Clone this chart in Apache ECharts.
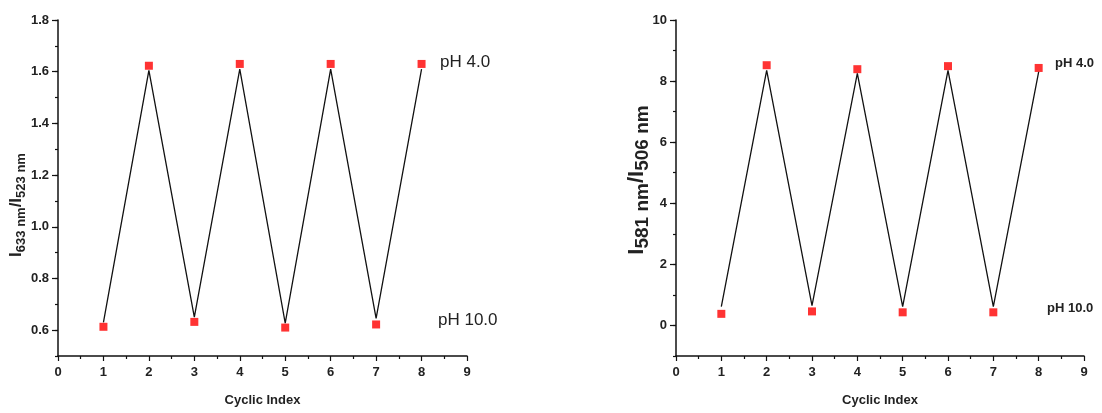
<!DOCTYPE html>
<html>
<head>
<meta charset="utf-8">
<script src="https://cdn.jsdelivr.net/npm/echarts@6/dist/echarts.min.js"></script>
<style>
  html, body { margin: 0; padding: 0; background: #fff; }
  #chart { width: 1102px; height: 413px; }
</style>
</head>
<body>
<div id="chart"></div>
<script>
// cycle index on the x axis
var cycles = [1, 2, 3, 4, 5, 6, 7, 8];

// left panel: I633/I523 ratio (markers) and the connecting line as drawn
var leftRatio = [0.613, 1.623, 0.632, 1.630, 0.610, 1.630, 0.622, 1.630];
var leftLine = [0.63, 1.605, 0.65, 1.61, 0.627, 1.61, 0.646, 1.61];

// right panel: I581/I506 ratio (markers) and connecting line
var rightRatio = [0.38, 8.52, 0.46, 8.39, 0.43, 8.49, 0.43, 8.43];
var rightLine = [0.62, 8.35, 0.65, 8.25, 0.62, 8.35, 0.62, 8.3];

// tick labels
var xTicks = [0, 1, 2, 3, 4, 5, 6, 7, 8, 9];
var leftYTicks = [0.6, 0.8, 1.0, 1.2, 1.4, 1.6, 1.8];
var rightYTicks = [0, 2, 4, 6, 8, 10];

var font = 'Liberation Sans, Arial, sans-serif';

function pairs(xs, ys) {
  return xs.map(function (x, i) { return [x, ys[i]]; });
}

function xAxisFor(grid) {
  return {
    type: 'value', gridIndex: grid, min: 0, max: 9, interval: 1,
    name: 'Cyclic Index', nameLocation: 'middle', nameGap: 38,
    nameTextStyle: { fontFamily: font, fontWeight: 'bold', fontSize: 13, color: '#222' },
    axisLine: { onZero: false, lineStyle: { color: '#111', width: 1.5 } },
    axisTick: { length: 5, lineStyle: { color: '#111', width: 1.2 } },
    minorTick: { show: true, splitNumber: 2, length: 3, lineStyle: { color: '#111', width: 1.2 } },
    axisLabel: { fontFamily: font, fontWeight: 'bold', fontSize: 13, color: '#222', margin: 10,
      customValues: xTicks },
    splitLine: { show: false }
  };
}

var option = {
  animation: false,
  backgroundColor: '#fff',
  grid: [
    { left: 58, right: 635, top: 20, bottom: 57 },
    { left: 676, right: 18, top: 20, bottom: 57 }
  ],
  xAxis: [xAxisFor(0), xAxisFor(1)],
  yAxis: [
    // left panel, minor ticks every 0.1 + axis line + title
    {
      type: 'value', gridIndex: 0, position: 'left', min: 0.5, max: 1.8, interval: 0.1,
      name: '{i|I}{s|633 nm}{i|/I}{s|523 nm}', nameLocation: 'middle', nameGap: 30,
      nameTextStyle: {
        padding: [0, 34, 0, 0],
        rich: {
          i: { fontFamily: font, fontWeight: 'bold', fontSize: 17, color: '#222' },
          s: { fontFamily: font, fontWeight: 'bold', fontSize: 13, color: '#222', padding: [10, 0, 0, 0] }
        }
      },
      axisLine: { show: true, onZero: false, lineStyle: { color: '#111', width: 1.5 } },
      axisTick: { length: 3, lineStyle: { color: '#111', width: 1.2 } },
      axisLabel: { show: false },
      splitLine: { show: false }
    },
    // left panel, major ticks and labels
    {
      type: 'value', gridIndex: 0, position: 'left', min: 0.5, max: 1.8,
      axisLine: { show: false },
      axisTick: { show: true, length: 6, customValues: leftYTicks, lineStyle: { color: '#111', width: 1.2 } },
      axisLabel: { fontFamily: font, fontWeight: 'bold', fontSize: 13, color: '#222', margin: 9,
        customValues: leftYTicks, formatter: function (v) { return v.toFixed(1); } },
      splitLine: { show: false }
    },
    // right panel, minor ticks every 1 + axis line + title
    {
      type: 'value', gridIndex: 1, position: 'left', min: -1, max: 10, interval: 1,
      name: '{i|I}{s|581 nm}{i|/I}{s|506 nm}', nameLocation: 'middle', nameGap: 24,
      nameTextStyle: {
        padding: [0, 0, 0, 16],
        rich: {
          i: { fontFamily: font, fontWeight: 'bold', fontSize: 22, color: '#222' },
          s: { fontFamily: font, fontWeight: 'bold', fontSize: 19, color: '#222', padding: [12, 0, 0, 0] }
        }
      },
      axisLine: { show: true, onZero: false, lineStyle: { color: '#111', width: 1.5 } },
      axisTick: { length: 3, lineStyle: { color: '#111', width: 1.2 } },
      axisLabel: { show: false },
      splitLine: { show: false }
    },
    // right panel, major ticks and labels
    {
      type: 'value', gridIndex: 1, position: 'left', min: -1, max: 10,
      axisLine: { show: false },
      axisTick: { show: true, length: 6, customValues: rightYTicks, lineStyle: { color: '#111', width: 1.2 } },
      axisLabel: { fontFamily: font, fontWeight: 'bold', fontSize: 13, color: '#222', margin: 9,
        customValues: rightYTicks },
      splitLine: { show: false }
    }
  ],
  series: [
    { type: 'line', xAxisIndex: 0, yAxisIndex: 0, data: pairs(cycles, leftLine), showSymbol: false,
      lineStyle: { color: '#111', width: 1.3 } },
    { type: 'scatter', xAxisIndex: 0, yAxisIndex: 0, data: pairs(cycles, leftRatio), symbol: 'rect',
      symbolSize: 8, itemStyle: { color: '#f00' } },
    { type: 'line', xAxisIndex: 1, yAxisIndex: 2, data: pairs(cycles, rightLine), showSymbol: false,
      lineStyle: { color: '#111', width: 1.3 } },
    { type: 'scatter', xAxisIndex: 1, yAxisIndex: 2, data: pairs(cycles, rightRatio), symbol: 'rect',
      symbolSize: 8, itemStyle: { color: '#f00' } }
  ],
  graphic: [
    { type: 'text', left: 440, top: 54, style: { text: 'pH 4.0', font: '17px ' + font, fill: '#222' } },
    { type: 'text', left: 438, top: 312, style: { text: 'pH 10.0', font: '17px ' + font, fill: '#222' } },
    { type: 'text', left: 1055, top: 57, style: { text: 'pH 4.0', font: 'bold 13px ' + font, fill: '#222' } },
    { type: 'text', left: 1047, top: 302, style: { text: 'pH 10.0', font: 'bold 13px ' + font, fill: '#222' } }
  ]
};

var chart = echarts.init(document.getElementById('chart'));
chart.setOption(option);
</script>
</body>
</html>
